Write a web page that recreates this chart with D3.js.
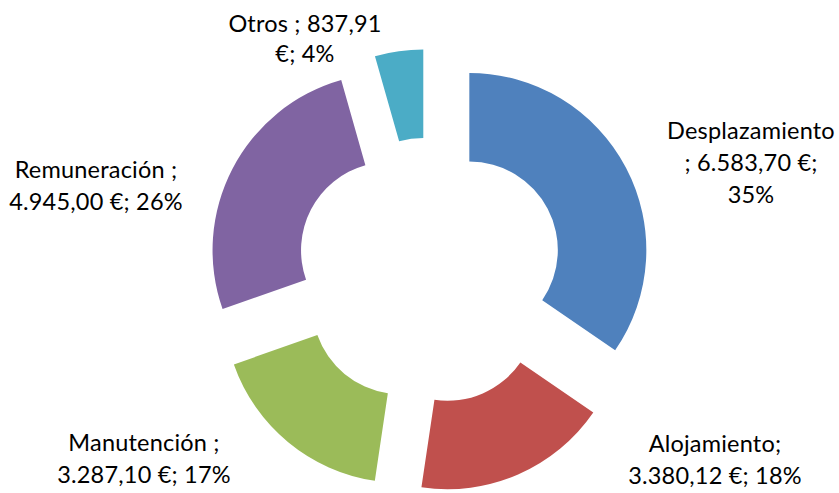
<!DOCTYPE html>
<html>
<head>
<meta charset="utf-8">
<script src="https://cdn.jsdelivr.net/npm/d3@7"></script>
<style>
  body { margin: 0; background: #fff; }
  svg { display: block; }
  .lbl { font-family: Lato, "Open Sans", sans-serif; font-size: 23.5px; letter-spacing: 0.2px; fill: #000; }
</style>
</head>
<body>
<svg width="839" height="493"></svg>
<script>
// Data
const categories = ["Desplazamiento", "Alojamiento", "Manutención", "Remuneración", "Otros"];
const values = [6583.70, 3380.12, 3287.10, 4945.00, 837.91];
const labelLines = [
  ["Desplazamiento", "; 6.583,70 €;", "35%"],
  ["Alojamiento;", "3.380,12 €; 18%"],
  ["Manutención ;", "3.287,10 €; 17%"],
  ["Remuneración ;", "4.945,00 €; 26%"],
  ["Otros ; 837,91", "€; 4%"]
];
const colors = ["#4F81BD", "#C0504D", "#9BBB59", "#8064A2", "#4BACC6"];

// Layout
const cx = 429.5, cy = 271;
const outerR = 177, innerR = 88.5;
const explode = 45;
// label anchor (centre x, first baseline y) and line step
const labelPos = [
  { x: 751, y: 139, step: 32 },
  { x: 715, y: 452, step: 32 },
  { x: 144, y: 451, step: 32 },
  { x: 96, y: 178, step: 32 },
  { x: 305, y: 31.5, step: 30 }
];

const data = categories.map((c, i) => ({ name: c, value: values[i], i: i }));

const svg = d3.select("svg");

const pie = d3.pie().sort(null).value(d => d.value);
const arc = d3.arc().innerRadius(innerR).outerRadius(outerR);

const g = svg.append("g").attr("transform", `translate(${cx},${cy})`);

g.selectAll("path")
  .data(pie(data))
  .enter()
  .append("path")
  .attr("d", arc)
  .attr("fill", d => colors[d.data.i])
  .attr("transform", d => {
    const mid = (d.startAngle + d.endAngle) / 2;
    return `translate(${explode * Math.sin(mid)},${-explode * Math.cos(mid)})`;
  });

// Data labels
data.forEach((d, i) => {
  const p = labelPos[i];
  const t = svg.append("text")
    .attr("class", "lbl")
    .attr("text-anchor", "middle")
    .attr("x", p.x)
    .attr("y", p.y);
  labelLines[i].forEach((line, k) => {
    t.append("tspan")
      .attr("x", p.x)
      .attr("y", p.y + k * p.step)
      .text(line);
  });
});
</script>
</body>
</html>
